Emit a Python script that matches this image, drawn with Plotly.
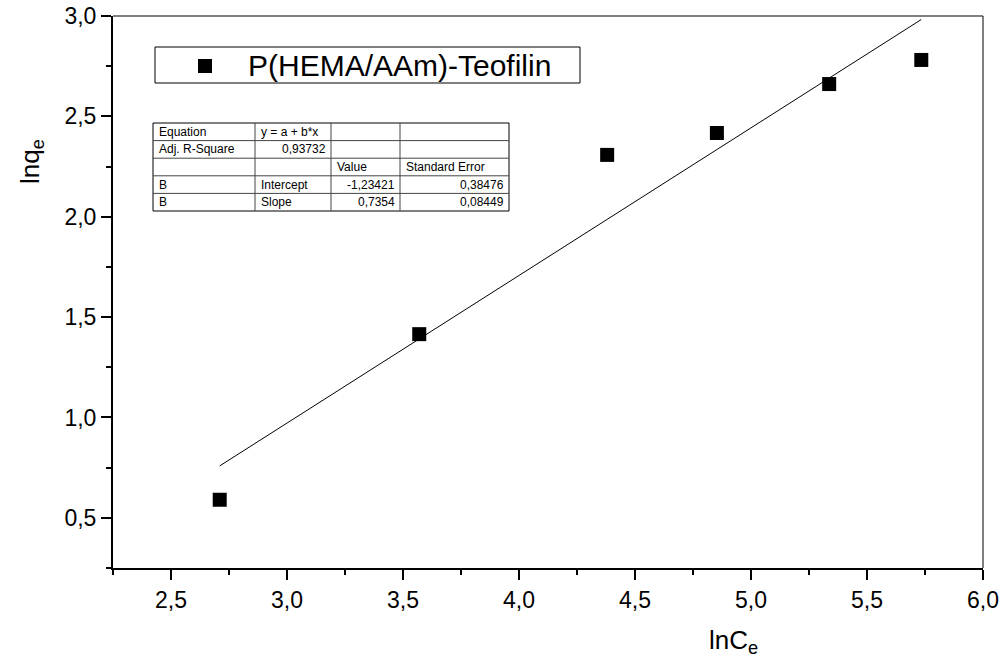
import plotly.graph_objects as go

# ---- data ----
lnCe = [2.71, 3.57, 4.38, 4.853, 5.337, 5.734]
lnqe = [0.59, 1.415, 2.308, 2.417, 2.661, 2.781]
series_name = "P(HEMA/AAm)-Teofilin"
fit_intercept = -1.23421
fit_slope = 0.7354

table_col1 = ["Equation", "Adj. R-Square", "", "B", "B"]
table_col2 = ["y = a + b*x", "0,93732", "", "Intercept", "Slope"]
table_col3 = ["", "", "Value", "-1,23421", "0,7354"]
table_col4 = ["", "", "Standard Error", "0,38476", "0,08449"]

x_range = [2.25, 6.0]
y_range = [0.25, 3.0]

# ---- layout geometry (pixels) ----
W, H = 1005, 661
L, R, T, B = 113, 22, 16, 93
PW, PH = W - L - R, H - T - B

def px(x):
    return (x - L) / PW

def py(y):
    return (H - B - y) / PH

FONT = "Liberation Sans, Arial, sans-serif"

fig = go.Figure()

x_fit = [min(lnCe), max(lnCe)]
y_fit = [fit_intercept + fit_slope * v for v in x_fit]
fig.add_trace(go.Scatter(x=x_fit, y=y_fit, mode="lines",
                         line=dict(color="black", width=1), showlegend=False))
fig.add_trace(go.Scatter(x=lnCe, y=lnqe, mode="markers", name=series_name,
                         marker=dict(symbol="square", size=14, color="black"),
                         showlegend=False))

shapes = []
annotations = []

# top (gray) and right (black) frame lines
shapes.append(dict(type="line", xref="paper", yref="paper", x0=0, x1=1, y0=1, y1=1,
                   line=dict(color="#808080", width=2)))
shapes.append(dict(type="line", xref="paper", yref="paper", x0=1, x1=1, y0=0, y1=1,
                   line=dict(color="black", width=1)))

# legend box
shapes.append(dict(type="rect", xref="paper", yref="paper",
                   x0=px(155), x1=px(580), y0=py(83), y1=py(47),
                   line=dict(color="black", width=1), fillcolor="white"))
shapes.append(dict(type="rect", xref="paper", yref="paper",
                   x0=px(198), x1=px(212), y0=py(73), y1=py(59),
                   line=dict(color="black", width=0), fillcolor="black"))
annotations.append(dict(text=series_name, xref="paper", yref="paper",
                        x=px(246), y=py(66), xanchor="left", yanchor="middle",
                        showarrow=False, font=dict(family=FONT, size=30, color="black")))

# fit table
col_edges = [153, 255, 331, 400, 509]
top, row_h = 123, 17.6
nrows = len(table_col1)
row_edges = [top + i * row_h for i in range(nrows + 1)]
shapes.append(dict(type="rect", xref="paper", yref="paper",
                   x0=px(col_edges[0]), x1=px(col_edges[-1]),
                   y0=py(row_edges[-1]), y1=py(row_edges[0]),
                   line=dict(color="black", width=1), fillcolor="white", layer="above"))
for ce in col_edges[1:-1]:
    shapes.append(dict(type="line", xref="paper", yref="paper", x0=px(ce), x1=px(ce),
                       y0=py(row_edges[-1]), y1=py(row_edges[0]),
                       line=dict(color="#444444", width=1)))
for re_ in row_edges[1:-1]:
    shapes.append(dict(type="line", xref="paper", yref="paper",
                       x0=px(col_edges[0]), x1=px(col_edges[-1]), y0=py(re_), y1=py(re_),
                       line=dict(color="#444444", width=1)))

cols = [table_col1, table_col2, table_col3, table_col4]
for ci, col in enumerate(cols):
    for ri, txt in enumerate(col):
        if not txt:
            continue
        is_num = txt[0].isdigit() or txt[0] == "-"
        yc = (row_edges[ri] + row_edges[ri + 1]) / 2
        if is_num:
            xpos, anchor = col_edges[ci + 1] - 3, "right"
        else:
            xpos, anchor = col_edges[ci] + 4, "left"
        annotations.append(dict(text=txt, xref="paper", yref="paper",
                                x=px(xpos), y=py(yc), xanchor=anchor, yanchor="middle",
                                showarrow=False,
                                font=dict(family=FONT, size=12, color="black")))

# axis titles
annotations.append(dict(text="lnC<sub>e</sub>", xref="paper", yref="paper",
                        x=px(733), y=py(641), xanchor="center", yanchor="middle",
                        showarrow=False, font=dict(family=FONT, size=26, color="black")))
annotations.append(dict(text="lnq<sub>e</sub>", xref="paper", yref="paper",
                        x=px(32), y=py(162), xanchor="center", yanchor="middle",
                        textangle=-90, showarrow=False,
                        font=dict(family=FONT, size=26, color="black")))

axis_common = dict(showgrid=False, zeroline=False, showline=True, linecolor="black",
                   linewidth=2, ticks="outside", ticklen=10, tickwidth=2,
                   tickcolor="black", tickformat=".1f", automargin=False,
                   tickfont=dict(family=FONT, size=23, color="black"),
                   minor=dict(ticks="outside", ticklen=5, tickwidth=2,
                              tickcolor="black", dtick=0.25, showgrid=False))

fig.update_xaxes(range=x_range, dtick=0.5, tick0=0, **axis_common)
fig.update_yaxes(range=y_range, dtick=0.5, tick0=0, **axis_common)

fig.update_layout(width=W, height=H, margin=dict(l=L, r=R, t=T, b=B, pad=0),
                  plot_bgcolor="white", paper_bgcolor="white", separators=",.",
                  shapes=shapes, annotations=annotations, showlegend=False,
                  font=dict(family=FONT, color="black"))

fig.write_html("out.html")
